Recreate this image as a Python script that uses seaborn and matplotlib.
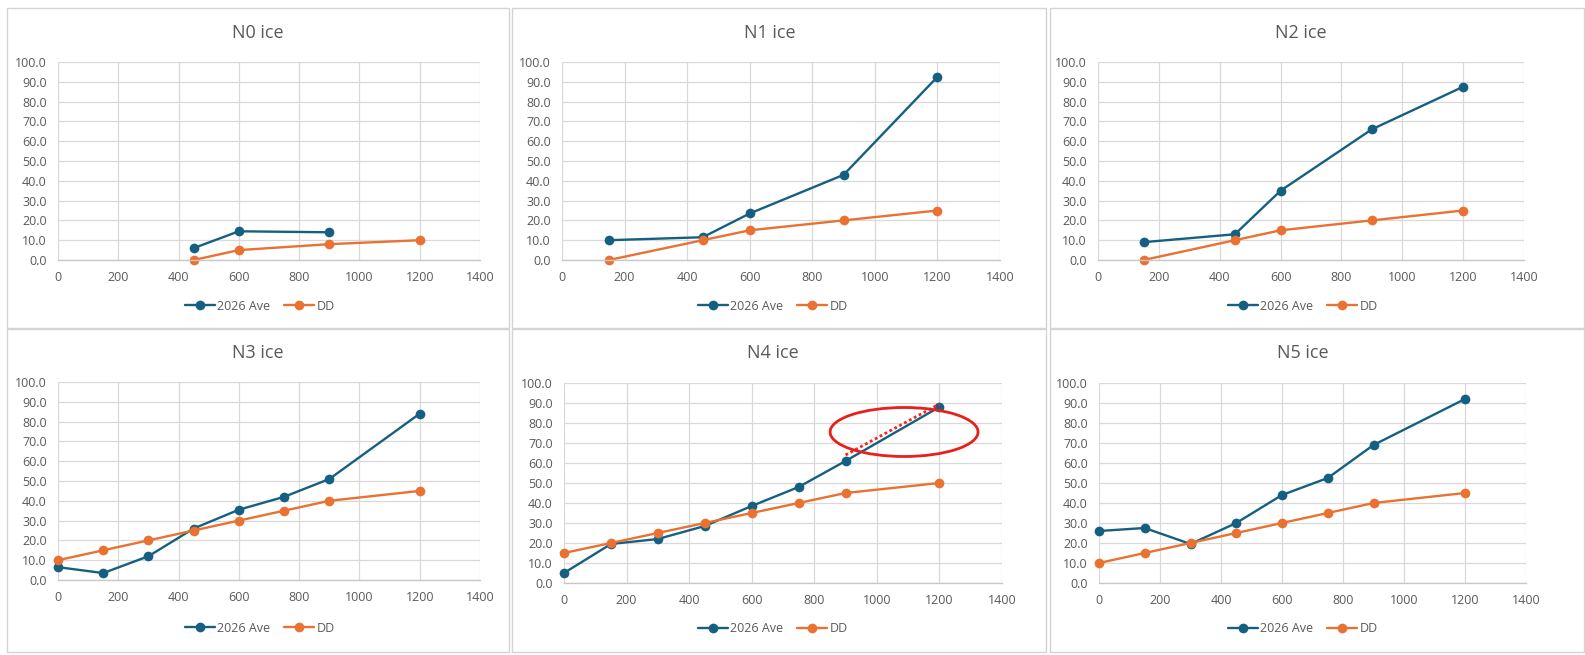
import matplotlib
matplotlib.use("Agg")
import matplotlib.pyplot as plt
import seaborn as sns
from matplotlib.patches import Rectangle, Ellipse

# ---------------- data ----------------
titles = ["N0 ice", "N1 ice", "N2 ice", "N3 ice", "N4 ice", "N5 ice"]
series_names = ["2026 Ave", "DD"]

n0_x_ave = [450, 600, 900]
n0_ave = [6.0, 14.5, 14.0]
n0_x_dd = [450, 600, 900, 1200]
n0_dd = [0.0, 5.0, 8.0, 10.0]

n12_x = [150, 450, 600, 900, 1200]
n1_ave = [10.0, 11.5, 23.5, 43.0, 92.5]
n1_dd = [0.0, 10.0, 15.0, 20.0, 25.0]
n2_ave = [9.0, 13.0, 35.0, 66.0, 87.5]
n2_dd = [0.0, 10.0, 15.0, 20.0, 25.0]

n345_x = [0, 150, 300, 450, 600, 750, 900, 1200]
n3_ave = [6.5, 3.5, 12.0, 26.0, 35.5, 42.0, 51.0, 84.0]
n3_dd = [10.0, 15.0, 20.0, 25.0, 30.0, 35.0, 40.0, 45.0]
n4_ave = [5.0, 19.5, 22.0, 28.5, 38.5, 48.0, 61.0, 88.0]
n4_dd = [15.0, 20.0, 25.0, 30.0, 35.0, 40.0, 45.0, 50.0]
n5_ave = [26.0, 27.5, 19.5, 30.0, 44.0, 52.5, 69.0, 92.0]
n5_dd = [10.0, 15.0, 20.0, 25.0, 30.0, 35.0, 40.0, 45.0]

panels = [
    (n0_x_ave, n0_ave, n0_x_dd, n0_dd),
    (n12_x, n1_ave, n12_x, n1_dd),
    (n12_x, n2_ave, n12_x, n2_dd),
    (n345_x, n3_ave, n345_x, n3_dd),
    (n345_x, n4_ave, n345_x, n4_dd),
    (n345_x, n5_ave, n345_x, n5_dd),
]

x_ticks = [0, 200, 400, 600, 800, 1000, 1200, 1400]
y_ticks = [0, 10, 20, 30, 40, 50, 60, 70, 80, 90, 100]

# annotation on N4 (red ellipse + dotted line)
ann_ellipse_center = (1087, 75.5)
ann_ellipse_size = (473, 24.5)
ann_line_x = [900, 1200]
ann_line_y = [64, 89.5]

# ---------------- style ----------------
sns.set_theme(style="white")
plt.rcParams["font.family"] = ["Open Sans", "DejaVu Sans"]

C_AVE = "#156082"
C_DD = "#E97132"
C_TXT = "#595959"
C_GRID = "#d9d9d9"

W, H = 1585, 655
fig = plt.figure(figsize=(W / 100, H / 100), dpi=100)

def fx(px):
    return px / W

def fy(py):
    return 1 - py / H

# panel frames (pixel coords: x0, y0, x1, y1)
frames = [
    (7, 8, 509, 328), (512, 8, 1046, 328), (1050, 8, 1584, 328),
    (7, 329, 509, 652), (512, 329, 1046, 652), (1050, 329, 1584, 652),
]
for (x0, y0, x1, y1) in frames:
    fig.patches.append(Rectangle((fx(x0), fy(y1)), fx(x1) - fx(x0), fy(y0) - fy(y1),
                                 transform=fig.transFigure, fill=False,
                                 edgecolor="#d4d4d4", linewidth=1.0))

# axes plot areas (pixel coords: left, top, right, bottom)
areas = [
    (58, 62, 480, 260), (562, 62, 1000, 260), (1098, 62, 1524, 260),
    (58, 382, 480, 580), (564, 383, 1002, 583), (1099, 383, 1526, 583),
]
title_pos = [(258, 33), (770, 33), (1301, 33), (258, 353), (773, 353), (1303, 353)]
legend_pos = [(260, 306), (773, 306), (1303, 306), (260, 628), (773, 629), (1303, 629)]

for i, (l, t, r, b) in enumerate(areas):
    ax = fig.add_axes([fx(l), fy(b), fx(r) - fx(l), fy(t) - fy(b)])
    xa, ya, xd, yd = panels[i]
    sns.lineplot(x=xa, y=ya, ax=ax, color=C_AVE, marker="o", markersize=7,
                 markeredgecolor=C_AVE, markeredgewidth=0, linewidth=1.7,
                 label=series_names[0], legend=False, sort=False)
    sns.lineplot(x=xd, y=yd, ax=ax, color=C_DD, marker="o", markersize=7,
                 markeredgecolor=C_DD, markeredgewidth=0, linewidth=1.7,
                 label=series_names[1], legend=False, sort=False)
    ax.set_xlim(0, 1400)
    ax.set_ylim(0, 100)
    ax.set_xticks(x_ticks)
    ax.set_yticks(y_ticks)
    ax.set_yticklabels([f"{v:.1f}" for v in y_ticks])
    ax.tick_params(axis="both", length=0, labelsize=9, labelcolor=C_TXT)
    ax.tick_params(axis="y", pad=8)
    ax.tick_params(axis="x", pad=8)
    ax.grid(True, color=C_GRID, linewidth=0.9)
    ax.set_axisbelow(True)
    for s in ["top", "left", "right"]:
        ax.spines[s].set_visible(False)
    ax.spines["bottom"].set_color("#c8c8c8")
    ax.spines["bottom"].set_linewidth(1.0)
    ax.set_xlabel("")
    ax.set_ylabel("")
    for line in ax.get_lines():
        line.set_clip_on(False)

    tx, ty = title_pos[i]
    fig.text(fx(tx), fy(ty), titles[i], ha="center", va="center",
             fontsize=13, color=C_TXT)

    lx, ly = legend_pos[i]
    ax.legend(loc="center", bbox_to_anchor=(fx(lx), fy(ly)),
              bbox_transform=fig.transFigure, ncol=2, frameon=False,
              fontsize=9, labelcolor=C_TXT, handlelength=2.4,
              handletextpad=0.2, columnspacing=1.1, borderpad=0)

    if i == 4:
        ax.plot(ann_line_x, ann_line_y, linestyle=(0, (1, 1)), color="#ff2020",
                linewidth=2.0, zorder=5)
        ax.add_patch(Ellipse(ann_ellipse_center, ann_ellipse_size[0], ann_ellipse_size[1],
                             fill=False, edgecolor="#e8201c", linewidth=2.0,
                             zorder=6, clip_on=False))

fig.savefig("out.png", dpi=100)
